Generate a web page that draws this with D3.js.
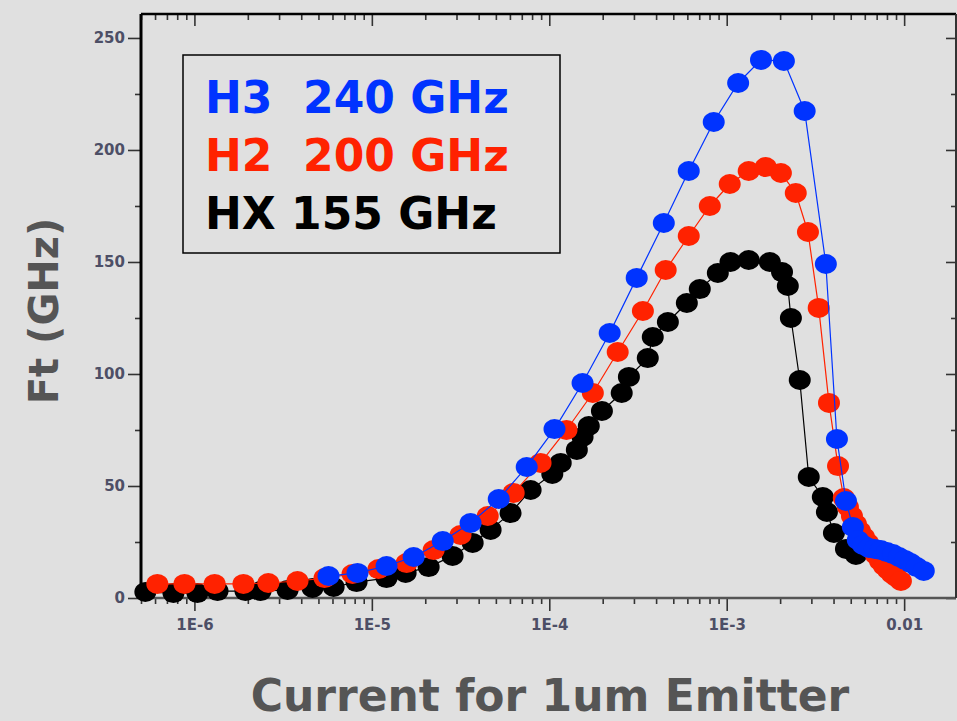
<!DOCTYPE html>
<meta charset="utf-8">
<style>
body { margin: 0; background: #e0e0e0; }
svg { display: block; }
.tick text { font-family: "DejaVu Sans", sans-serif; font-weight: bold; fill: #4d4f66; }
</style>
<body>
<script src="https://cdn.jsdelivr.net/npm/d3@7"></script>
<script>
// H3 (blue) : current (A) and Ft (GHz)
var h3Current = [5.70e-6, 8.30e-6, 1.21e-5, 1.72e-5, 2.51e-5, 3.60e-5, 5.19e-5, 7.46e-5, 1.07e-4, 1.54e-4,
                 2.19e-4, 3.11e-4, 4.42e-4, 6.11e-4, 8.45e-4, 1.16e-3, 1.56e-3, 2.10e-3, 2.75e-3, 3.62e-3,
                 4.18e-3, 4.70e-3, 5.14e-3, 5.48e-3, 5.86e-3, 6.33e-3, 6.84e-3, 7.39e-3, 8.00e-3, 8.65e-3,
                 9.35e-3, 1.01e-2, 1.09e-2, 1.18e-2, 1.29e-2];
var h3Ft = [9.8, 11.2, 14.3, 18.3, 25.4, 33.5, 44.2, 58.5, 75.4, 96.0,
            118.3, 142.9, 167.4, 190.6, 212.5, 229.9, 240.2, 239.7, 217.4, 149.1,
            71.0, 43.3, 31.7, 25.9, 23.7, 22.3, 21.9, 21.4, 20.5, 19.6,
            18.3, 17.0, 15.6, 13.8, 12.1];

// H2 (red)
var h2Current = [6.18e-7, 8.79e-7, 1.30e-6, 1.89e-6, 2.61e-6, 3.81e-6, 5.41e-6, 7.78e-6, 1.09e-5, 1.57e-5,
                 2.23e-5, 3.16e-5, 4.50e-5, 6.30e-5, 8.93e-5, 1.25e-4, 1.76e-4, 2.43e-4, 3.37e-4, 4.53e-4,
                 6.11e-4, 8.03e-4, 1.04e-3, 1.33e-3, 1.66e-3, 2.02e-3, 2.45e-3, 2.87e-3, 3.30e-3, 3.77e-3,
                 4.24e-3, 4.57e-3, 4.82e-3, 5.08e-3, 5.35e-3, 5.64e-3, 5.94e-3, 6.25e-3, 6.58e-3, 6.93e-3,
                 7.31e-3, 7.69e-3, 8.11e-3, 8.54e-3, 8.99e-3, 9.59e-3];
var h2Ft = [6.3, 6.3, 6.3, 6.3, 6.7, 7.6, 8.9, 10.7, 12.9, 15.6,
            21.4, 28.1, 36.6, 46.9, 60.3, 75.0, 91.5, 109.8, 128.1, 146.4,
            161.6, 175.0, 184.8, 190.6, 192.4, 189.7, 180.8, 163.4, 129.5, 87.1,
            58.9, 44.6, 40.6, 36.6, 33.0, 29.9, 27.2, 24.6, 21.9, 19.2,
            16.5, 14.3, 12.5, 10.7, 9.4, 7.6];

// HX (black)
var hxCurrent = [5.29e-7, 7.62e-7, 1.04e-6, 1.35e-6, 1.94e-6, 2.36e-6, 3.35e-6, 4.63e-6, 6.09e-6, 8.20e-6,
                 1.21e-5, 1.55e-5, 2.09e-5, 2.85e-5, 3.70e-5, 4.67e-5, 6.05e-5, 7.85e-5, 1.04e-4, 1.16e-4,
                 1.43e-4, 1.54e-4, 1.67e-4, 1.98e-4, 2.56e-4, 2.81e-4, 3.59e-4, 3.83e-4, 4.66e-4, 5.96e-4,
                 7.05e-4, 8.91e-4, 1.05e-3, 1.33e-3, 1.75e-3, 2.05e-3, 2.21e-3, 2.30e-3, 2.58e-3, 2.90e-3,
                 3.48e-3, 3.67e-3, 4.02e-3, 4.70e-3, 5.35e-3];
var hxFt = [2.7, 2.2, 2.2, 3.1, 3.1, 3.1, 3.6, 4.5, 4.9, 7.1,
            8.9, 11.2, 13.8, 18.8, 24.6, 30.4, 37.9, 48.2, 55.4, 60.3,
            66.1, 71.9, 76.8, 83.5, 91.5, 98.7, 107.1, 116.5, 123.2, 131.7,
            137.9, 145.1, 150.0, 150.9, 150.0, 145.5, 139.3, 125.0, 97.3, 54.0,
            45.1, 38.4, 29.0, 21.9, 19.2];

var legendLabels = ["H3  240 GHz", "H2  200 GHz", "HX 155 GHz"];
var xTickValues = [1e-6, 1e-5, 1e-4, 1e-3, 1e-2];
var xTickLabels = ["1E-6", "1E-5", "1E-4", "1E-3", "0.01"];
var yTickValues = [0, 50, 100, 150, 200, 250];

var margin = {top: 14, right: 1, bottom: 123, left: 141},
    width = 957 - margin.left - margin.right,
    height = 721 - margin.top - margin.bottom;

var svg = d3.select("body").append("svg")
    .attr("width", 957)
    .attr("height", 721);

var g = svg.append("g")
    .attr("transform", "translate(" + margin.left + "," + margin.top + ")");

var x = d3.scaleLog().domain([5e-7, 0.0196]).range([0, width]);
var y = d3.scaleLinear().domain([0, 260.7]).range([height, 0]);

// minor ticks
var xMinor = [];
for (var e = -7; e <= -2; e++) {
  for (var m = 2; m <= 9; m++) {
    var v = m * Math.pow(10, e);
    if (v >= 5e-7 && v <= 0.0196) xMinor.push(v);
  }
}
var yMinor = [25, 75, 125, 175, 225];

// bottom axis
g.append("g")
    .attr("transform", "translate(0," + height + ")")
    .call(d3.axisBottom(x).tickValues(xMinor).tickSize(6).tickFormat(""));
g.append("g")
    .attr("transform", "translate(0," + height + ")")
    .call(d3.axisBottom(x).tickValues(xTickValues).tickSize(13).tickPadding(8)
      .tickFormat(function(d, i) { return xTickLabels[i]; }))
    .selectAll("text").style("font-size", "15px");

// top axis (ticks inward)
g.append("g").call(d3.axisBottom(x).tickValues(xMinor).tickSize(6).tickFormat(""));
g.append("g").call(d3.axisBottom(x).tickValues(xTickValues).tickSize(12).tickFormat(""));

// left axis
g.append("g")
    .call(d3.axisLeft(y).tickValues(yMinor).tickSize(6).tickFormat(""));
g.append("g")
    .call(d3.axisLeft(y).tickValues(yTickValues).tickSize(13).tickPadding(3))
    .selectAll("text").style("font-size", "15px");

// right axis (ticks inward)
g.append("g").attr("transform", "translate(" + width + ",0)")
    .call(d3.axisLeft(y).tickValues(yMinor).tickSize(5).tickFormat(""));
g.append("g").attr("transform", "translate(" + width + ",0)")
    .call(d3.axisLeft(y).tickValues(yTickValues).tickSize(10).tickFormat(""));

g.selectAll(".domain").remove();
g.selectAll(".tick line").attr("stroke", "#333").attr("stroke-width", 1.6);

// frame
g.append("line").attr("x1", 0).attr("x2", 0).attr("y1", 0).attr("y2", height)
    .attr("stroke", "#000").attr("stroke-width", 3);
g.append("line").attr("x1", 0).attr("x2", width).attr("y1", height).attr("y2", height)
    .attr("stroke", "#555").attr("stroke-width", 2.5);
g.append("line").attr("x1", 0).attr("x2", width).attr("y1", 0).attr("y2", 0)
    .attr("stroke", "#000").attr("stroke-width", 2.5);
g.append("line").attr("x1", width).attr("x2", width).attr("y1", 0).attr("y2", height)
    .attr("stroke", "#333").attr("stroke-width", 2);

// series
var series = [
  {cur: hxCurrent, ft: hxFt, color: "#000000"},
  {cur: h2Current, ft: h2Ft, color: "#ff2200"},
  {cur: h3Current, ft: h3Ft, color: "#0033ff"}
];

var line = d3.line()
    .x(function(d) { return x(d[0]); })
    .y(function(d) { return y(d[1]); });

series.forEach(function(s) {
  var pts = s.cur.map(function(c, i) { return [c, s.ft[i]]; });
  g.append("path")
      .datum(pts)
      .attr("fill", "none")
      .attr("stroke", s.color)
      .attr("stroke-width", 1.2)
      .attr("d", line);
  g.selectAll(null)
      .data(pts)
    .enter().append("ellipse")
      .attr("cx", function(d) { return x(d[0]); })
      .attr("cy", function(d) { return y(d[1]); })
      .attr("rx", 11)
      .attr("ry", 10)
      .attr("fill", s.color);
});

// legend
g.append("rect")
    .attr("x", 42).attr("y", 41)
    .attr("width", 377).attr("height", 198)
    .attr("fill", "none").attr("stroke", "#000").attr("stroke-width", 1.5);

var legendColors = ["#0033ff", "#ff2200", "#000000"];
g.selectAll(".leg")
    .data(legendLabels)
  .enter().append("text")
    .attr("x", 64)
    .attr("y", function(d, i) { return 99 + i * 58; })
    .attr("fill", function(d, i) { return legendColors[i]; })
    .style("font-family", "'DejaVu Sans', sans-serif")
    .style("font-weight", "bold")
    .style("font-size", "44px")
    .style("white-space", "pre")
    .text(function(d) { return d; });

// axis titles
svg.append("text")
    .attr("transform", "translate(58,311) rotate(-90)")
    .attr("text-anchor", "middle")
    .attr("fill", "#555")
    .style("font-family", "'DejaVu Sans', sans-serif")
    .style("font-weight", "bold")
    .style("font-size", "40px")
    .text("Ft (GHz)");

svg.append("text")
    .attr("x", 550)
    .attr("y", 711)
    .attr("text-anchor", "middle")
    .attr("fill", "#555")
    .style("font-family", "'DejaVu Sans', sans-serif")
    .style("font-weight", "bold")
    .style("font-size", "44px")
    .text("Current for 1um Emitter");
</script>
</body>
